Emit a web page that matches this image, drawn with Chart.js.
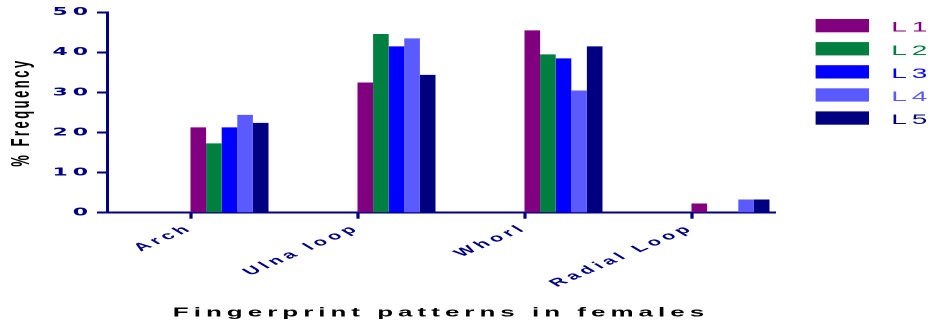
<!DOCTYPE html>
<html>
<head>
<meta charset="utf-8">
<script src="https://cdn.jsdelivr.net/npm/chart.js@4/dist/chart.umd.min.js"></script>
<style>
  html, body { margin: 0; padding: 0; background: #ffffff; overflow: hidden; }
  #wrap { width: 928px; height: 325px; overflow: hidden; }
  /* the drawing is laid out at half width and widened 2x */
  #chart { display: block; transform: scaleX(2); transform-origin: 0 0; }
</style>
</head>
<body>
<div id="wrap"><canvas id="chart" width="464" height="325"></canvas></div>
<script>
const categories = ['Arch', 'Ulna loop', 'Whorl', 'Radial Loop'];
const seriesNames = ['L1', 'L2', 'L3', 'L4', 'L5'];
const seriesColors = ['#800080', '#007F40', '#0000FF', '#5A5AFF', '#000080'];
const L1 = [21.3, 32.5, 45.5, 2.3];
const L2 = [17.3, 44.6, 39.5, 0];
const L3 = [21.3, 41.5, 38.5, 0];
const L4 = [24.4, 43.5, 30.5, 3.3];
const L5 = [22.4, 34.4, 41.5, 3.3];
const seriesValues = [L1, L2, L3, L4, L5];
const yTicks = [0, 10, 20, 30, 40, 50];

const NAVY = '#000080';
const SANS = "'Liberation Sans', Arial, sans-serif";
const SPACING = '2.5px';

// empty slots on the left half of each group so the bars start at the tick
const spacers = seriesNames.map(() => ({
  label: '', data: categories.map(() => null), backgroundColor: 'rgba(0,0,0,0)', spacer: true
}));
const series = seriesNames.map((name, i) => ({
  label: name,
  data: seriesValues[i],
  backgroundColor: seriesColors[i],
  borderWidth: 0
}));

const letterSpacing = {
  id: 'letterSpacing',
  beforeUpdate(c) { c.ctx.letterSpacing = SPACING; },
  beforeLayout(c) { c.ctx.letterSpacing = SPACING; },
  beforeDraw(c) { c.ctx.letterSpacing = SPACING; }
};

const sideLegend = {
  id: 'sideLegend',
  afterDraw(c) {
    const ctx = c.ctx;
    const x0 = c.chartArea.right + 20.3;
    ctx.save();
    ctx.letterSpacing = SPACING;
    ctx.font = '14px ' + SANS;
    ctx.textBaseline = 'alphabetic';
    c.data.datasets.forEach((ds) => {
      if (ds.spacer) return;
      const i = seriesNames.indexOf(ds.label);
      const y = 19 + i * 23.1;
      ctx.fillStyle = ds.backgroundColor;
      ctx.fillRect(x0, y, 26.7, 13.3);
      ctx.fillText(ds.label, x0 + 37.8, y + 12.7);
    });
    ctx.restore();
  }
};

new Chart(document.getElementById('chart'), {
  type: 'bar',
  data: { labels: categories, datasets: spacers.concat(series) },
  plugins: [letterSpacing, sideLegend],
  options: {
    responsive: false,
    animation: false,
    devicePixelRatio: 2,
    layout: { padding: { left: 0, top: 12.3, right: 76.5, bottom: 0 } },
    datasets: { bar: { categoryPercentage: 0.934, barPercentage: 1 } },
    plugins: { legend: { display: false }, tooltip: { enabled: false } },
    scales: {
      x: {
        offset: true,
        afterFit(s) { s.height = 112.3; },
        border: { display: true, color: NAVY, width: 2 },
        grid: { offset: false, drawOnChartArea: false, drawTicks: true, tickLength: 6, tickWidth: 1.6, tickColor: NAVY },
        ticks: {
          color: NAVY, autoSkip: false, minRotation: 40, maxRotation: 40, padding: 3,
          font: { family: SANS, size: 11, weight: 'bold' }
        },
        title: {
          display: true, text: 'Fingerprint patterns in females', color: '#000000',
          font: { family: SANS, size: 13, weight: 'bold' }, padding: { top: 0, bottom: 4.5 }
        }
      },
      y: {
        min: 0, max: 50,
        afterFit(s) { s.width = 53.5; },
        afterBuildTicks(s) { s.ticks = yTicks.map(v => ({ value: v })); },
        border: { display: true, color: NAVY, width: 1.5 },
        grid: { drawOnChartArea: false, drawTicks: true, tickLength: 5, tickWidth: 2, tickColor: NAVY },
        ticks: {
          color: NAVY, padding: 2,
          font: { family: "'DejaVu Sans', sans-serif", size: 11, weight: 'bold' }
        },
        title: {
          display: true, text: '% Frequency', color: '#000000',
          font: { family: SANS, size: 13, weight: 'bold' }, padding: { top: 3, bottom: 0 }
        }
      }
    }
  }
});
</script>
</body>
</html>
